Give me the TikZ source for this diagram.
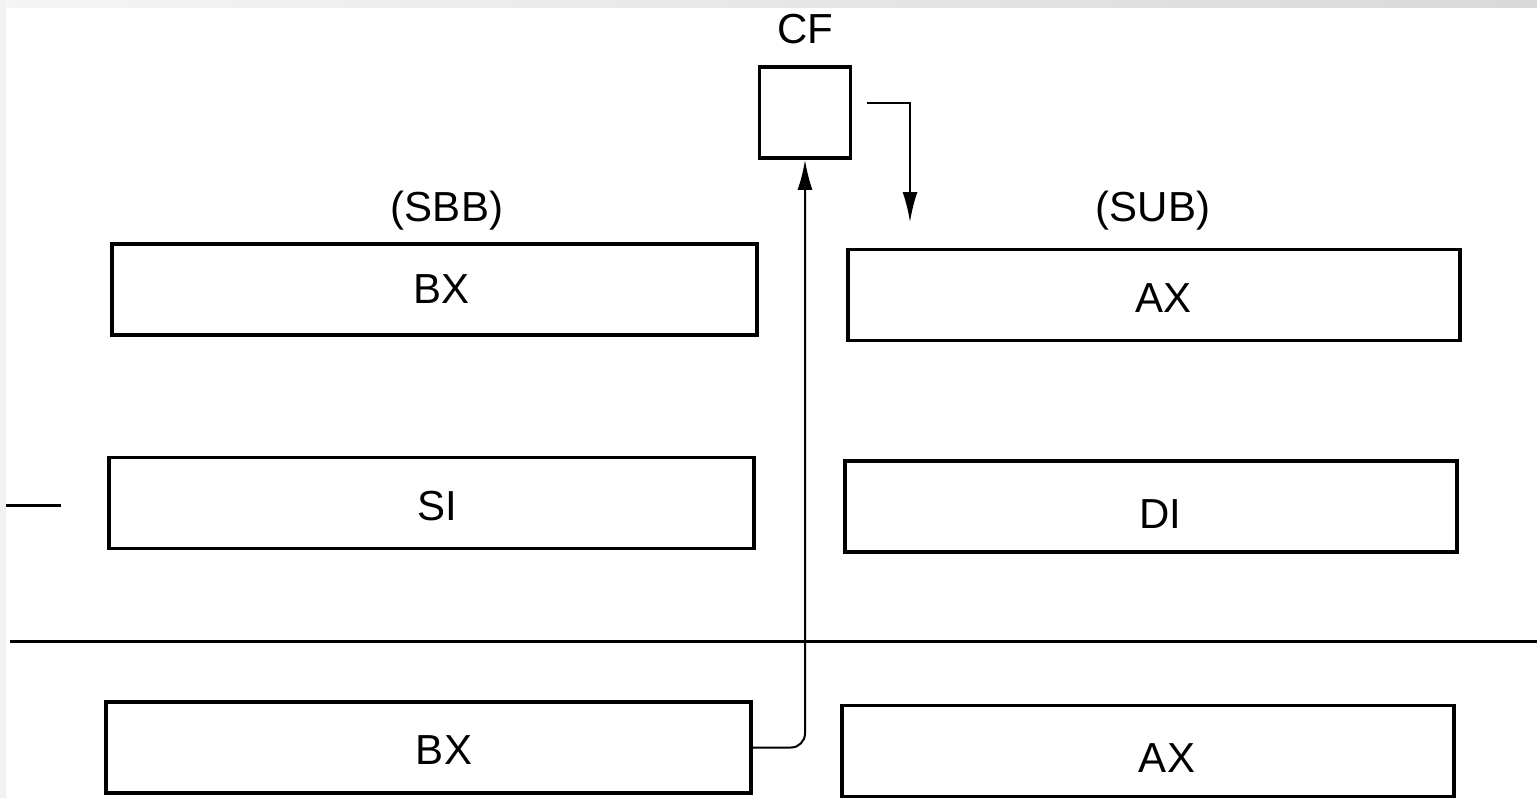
\documentclass[tikz,border=0pt]{standalone}
\usepackage{fontspec}
\setmainfont{Liberation Sans}
\usetikzlibrary{arrows.meta}
\tikzset{
  reg/.style={draw, line width=3.8pt, inner sep=0pt, minimum width=645pt, minimum height=91pt},
  regr/.style={reg, minimum width=612pt},
  flag/.style={draw, line width=3.8pt, inner sep=0pt, minimum width=91pt, minimum height=91pt},
  lbl/.style={inner sep=0pt, font=\fontsize{42}{46}\selectfont},
  arr/.style={line width=2pt, -{Latex[length=30pt,width=15pt]}},
  rule/.style={line width=3pt}
}
\begin{document}
\begin{tikzpicture}[x=1pt,y=-1pt]
\useasboundingbox (0,0) rectangle (1537,798);
\fill[white] (0,0) rectangle (1537,798);
\shade[left color=gray!8, right color=gray!30] (0,0) rectangle (1537,7);
\fill[gray!10] (0,0) rectangle (6,798);
% labels
\node[lbl] (cflbl) at (805.5,29) {CF};
\node[lbl] (sbb) at (447,211) {(SBB)};
\node[lbl] (sub) at (1153,211) {(SUB)};
% CF box
\node[flag] (cf) at (805,112.5) {};
% registers
\node[reg] (bx1) at (434.5,289.5) {};
\node[regr] (ax1) at (1154,295) {};
\node[reg] (si) at (431.5,503) {};
\node[regr] (di) at (1151,506.5) {};
\node[reg] (bx2) at (428.5,747.5) {};
\node[regr] (ax2) at (1148,751) {};
% register contents
\node[lbl] (bx1t) at (441.5,289) {BX};
\node[lbl] (ax1t) at (1163.5,298) {AX};
\node[lbl] (sit) at (437,506) {SI};
\node[lbl] (dit) at (1160,514) {DI};
\node[lbl] (bx2t) at (444,750) {BX};
\node[lbl] (ax2t) at (1167,758) {AX};
% lines
\coordinate (dashL) at (6,505);
\coordinate (dashR) at (61,505);
\draw[rule] (dashL) -- (dashR);
\coordinate (ruleL) at (10,641);
\coordinate (ruleR) at (1537,641);
\draw[rule] (ruleL) -- (ruleR);
% arrows
\draw[arr, rounded corners=14pt] (bx2.east) -| (cf.south);
\coordinate (cfout) at (867,103);
\coordinate (subin) at (910,222);
\draw[arr] (cfout) -| (subin);
\end{tikzpicture}
\end{document}
